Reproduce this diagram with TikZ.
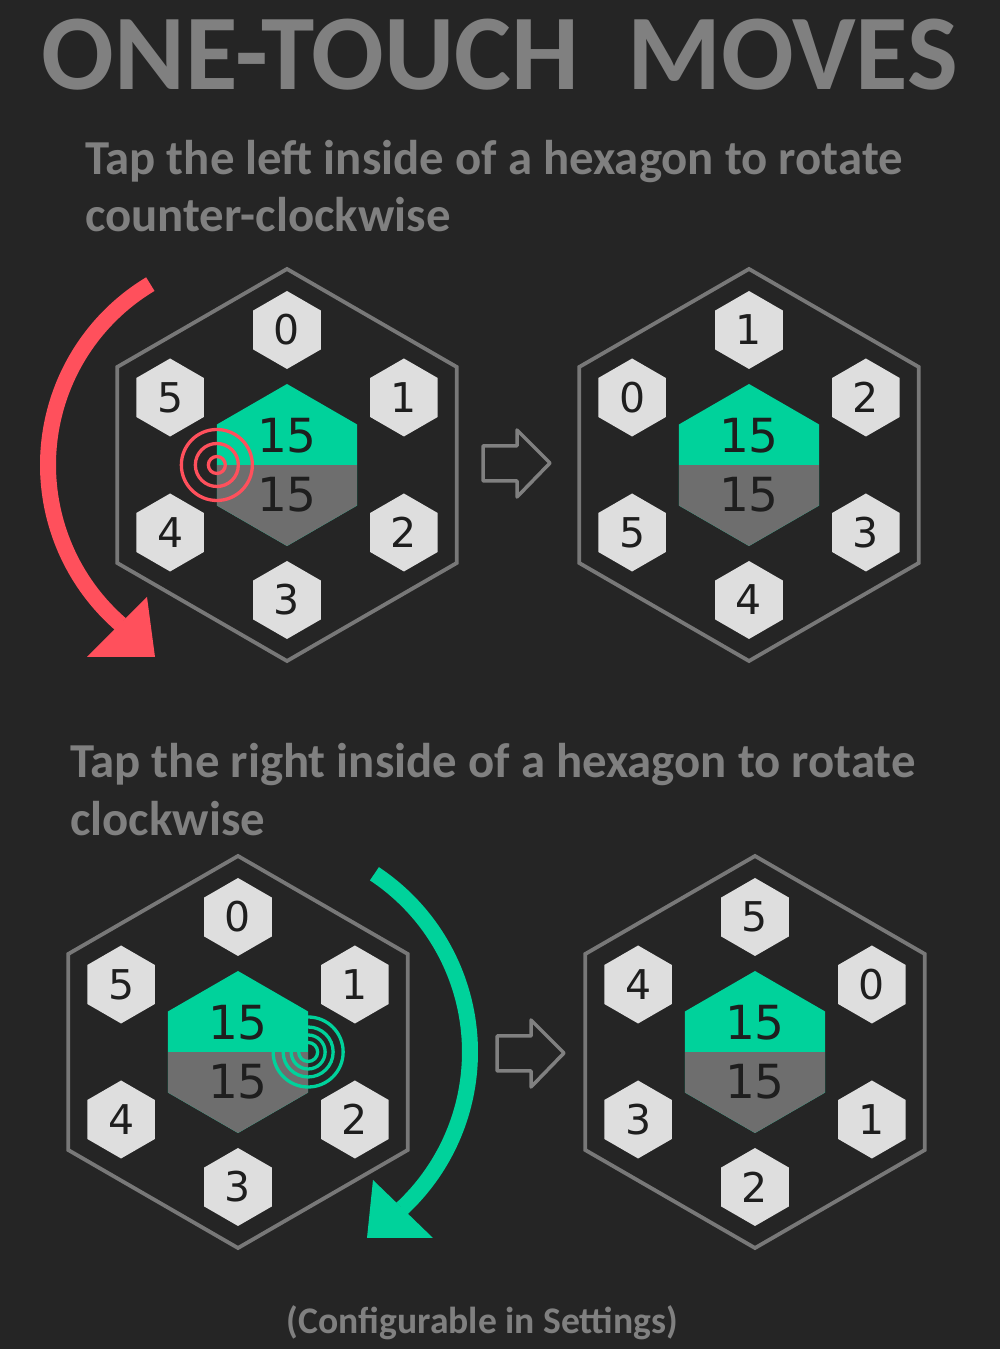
\documentclass[tikz,border=0pt]{standalone}
\usepackage{fontspec}
\setmainfont{Carlito}
\newfontfamily\digitfont{DejaVu Sans}
\usetikzlibrary{shapes.geometric,calc}
\definecolor{bgdark}{HTML}{252525}
\definecolor{headgrey}{HTML}{808080}
\definecolor{rimgrey}{HTML}{787878}
\definecolor{tilepale}{HTML}{DEDEDE}
\definecolor{ink}{HTML}{1E1E1E}
\definecolor{mint}{HTML}{00D29B}
\definecolor{coregrey}{HTML}{6E6E6E}
\definecolor{tapred}{HTML}{FF505C}
\tikzset{
  board/.style={regular polygon, regular polygon sides=6, shape border rotate=30, draw=rimgrey, line width=3.8, minimum size=392, inner sep=0},
  tile/.style={regular polygon, regular polygon sides=6, shape border rotate=30, fill=tilepale, minimum size=78, inner sep=0, text=ink, font=\digitfont\fontsize{41}{41}\selectfont},
  core/.style={regular polygon, regular polygon sides=6, shape border rotate=30, fill=mint, minimum size=162, inner sep=0,
    path picture={\fill[coregrey] (path picture bounding box.south west) rectangle (path picture bounding box.east);}},
  corenum/.style={inner sep=0, text=ink, font=\digitfont\fontsize{47}{47}\selectfont},
  headline/.style={text=headgrey, inner sep=0, font=\bfseries\fontsize{107.5}{107.5}\selectfont},
  hint/.style={text=headgrey, inner sep=0, anchor=base west, font=\bfseries\fontsize{48.8}{48.8}\selectfont},
  ring/.style={line width=3.3},
  sweep/.style={line width=16},
  pointer/.style={draw=headgrey, line width=3.5, line join=round},
}
\begin{document}
\begin{tikzpicture}[x=1pt, y=1pt]
  \fill[bgdark] (0,0) rectangle (1000,1349);
  \useasboundingbox (0,0) rectangle (1000,1349);
  % headings
  \node[headline, anchor=base] (title) at (500,1259) {ONE-TOUCH\ \ MOVES};
  \node[hint] (ccwline1) at (85,1174) {Tap the left inside of a hexagon to rotate};
  \node[hint] (ccwline2) at (85,1117) {counter-clockwise};
  \node[hint] (cwline1) at (70,571) {Tap the right inside of a hexagon to rotate};
  \node[hint] (cwline2) at (70,513) {clockwise};
  \node[text=headgrey, inner sep=0, anchor=base, font=\bfseries\fontsize{37.6}{37.6}\selectfont] (note) at (482.5,16) {(Configurable in Settings)};
  % the four boards: name / centre / label shift
  \foreach \b/\bx/\by/\s in {tl/287/884/0, tr/749/884/1, bl/238/297/0, br/755/297/5}{
    \coordinate (\b c) at (\bx,\by);
    \node[board] (\b) at (\b c) {};
    \node[core] (\b core) at (\b c) {};
    \node[corenum] (\b top) at ($(\b c)+(0,29)$) {15};
    \node[corenum] (\b bot) at ($(\b c)+(0,-30)$) {15};
    \foreach \k in {0,...,5}{
      \pgfmathtruncatemacro\lbl{mod(\k+\s,6)}
      \node[tile] (\b\k) at ($(\b c)+(90-60*\k:135)$) {\lbl};
    }
  }
  % taps
  \coordinate (redtap) at ($(tlc)+(-70.15,0)$);
  \foreach \r in {35.5,21.5,8.5}
    \draw[ring, tapred] (redtap) circle[radius=\r];
  \coordinate (mintap) at ($(blc)+(70.15,0)$);
  \foreach \r in {35,25,17,9.5}
    \draw[ring, mint] (mintap) circle[radius=\r];
  % rotation arrows
  \coordinate (redpivot) at (259,884);
  \draw[sweep, tapred] ($(redpivot)+(121:211)$) arc[start angle=121, end angle=229, radius=211];
  \fill[tapred] (87,692) -- (155,692) -- (147,752) -- cycle;
  \coordinate (mintpivot) at (256,297);
  \draw[sweep, mint] ($(mintpivot)+(56.4:214)$) arc[start angle=56.4, end angle=-47, radius=214];
  \fill[mint] (367,111) -- (433,111) -- (373,169) -- cycle;
  % before -> after
  \draw[pointer] (483,868) -- (517,868) -- (517,852) -- (550,886) -- (517,919) -- (517,903) -- (483,903) -- cycle;
  \draw[pointer] (497,278) -- (531,278) -- (531,262) -- (564,296) -- (531,329) -- (531,313) -- (497,313) -- cycle;
\end{tikzpicture}
\end{document}
